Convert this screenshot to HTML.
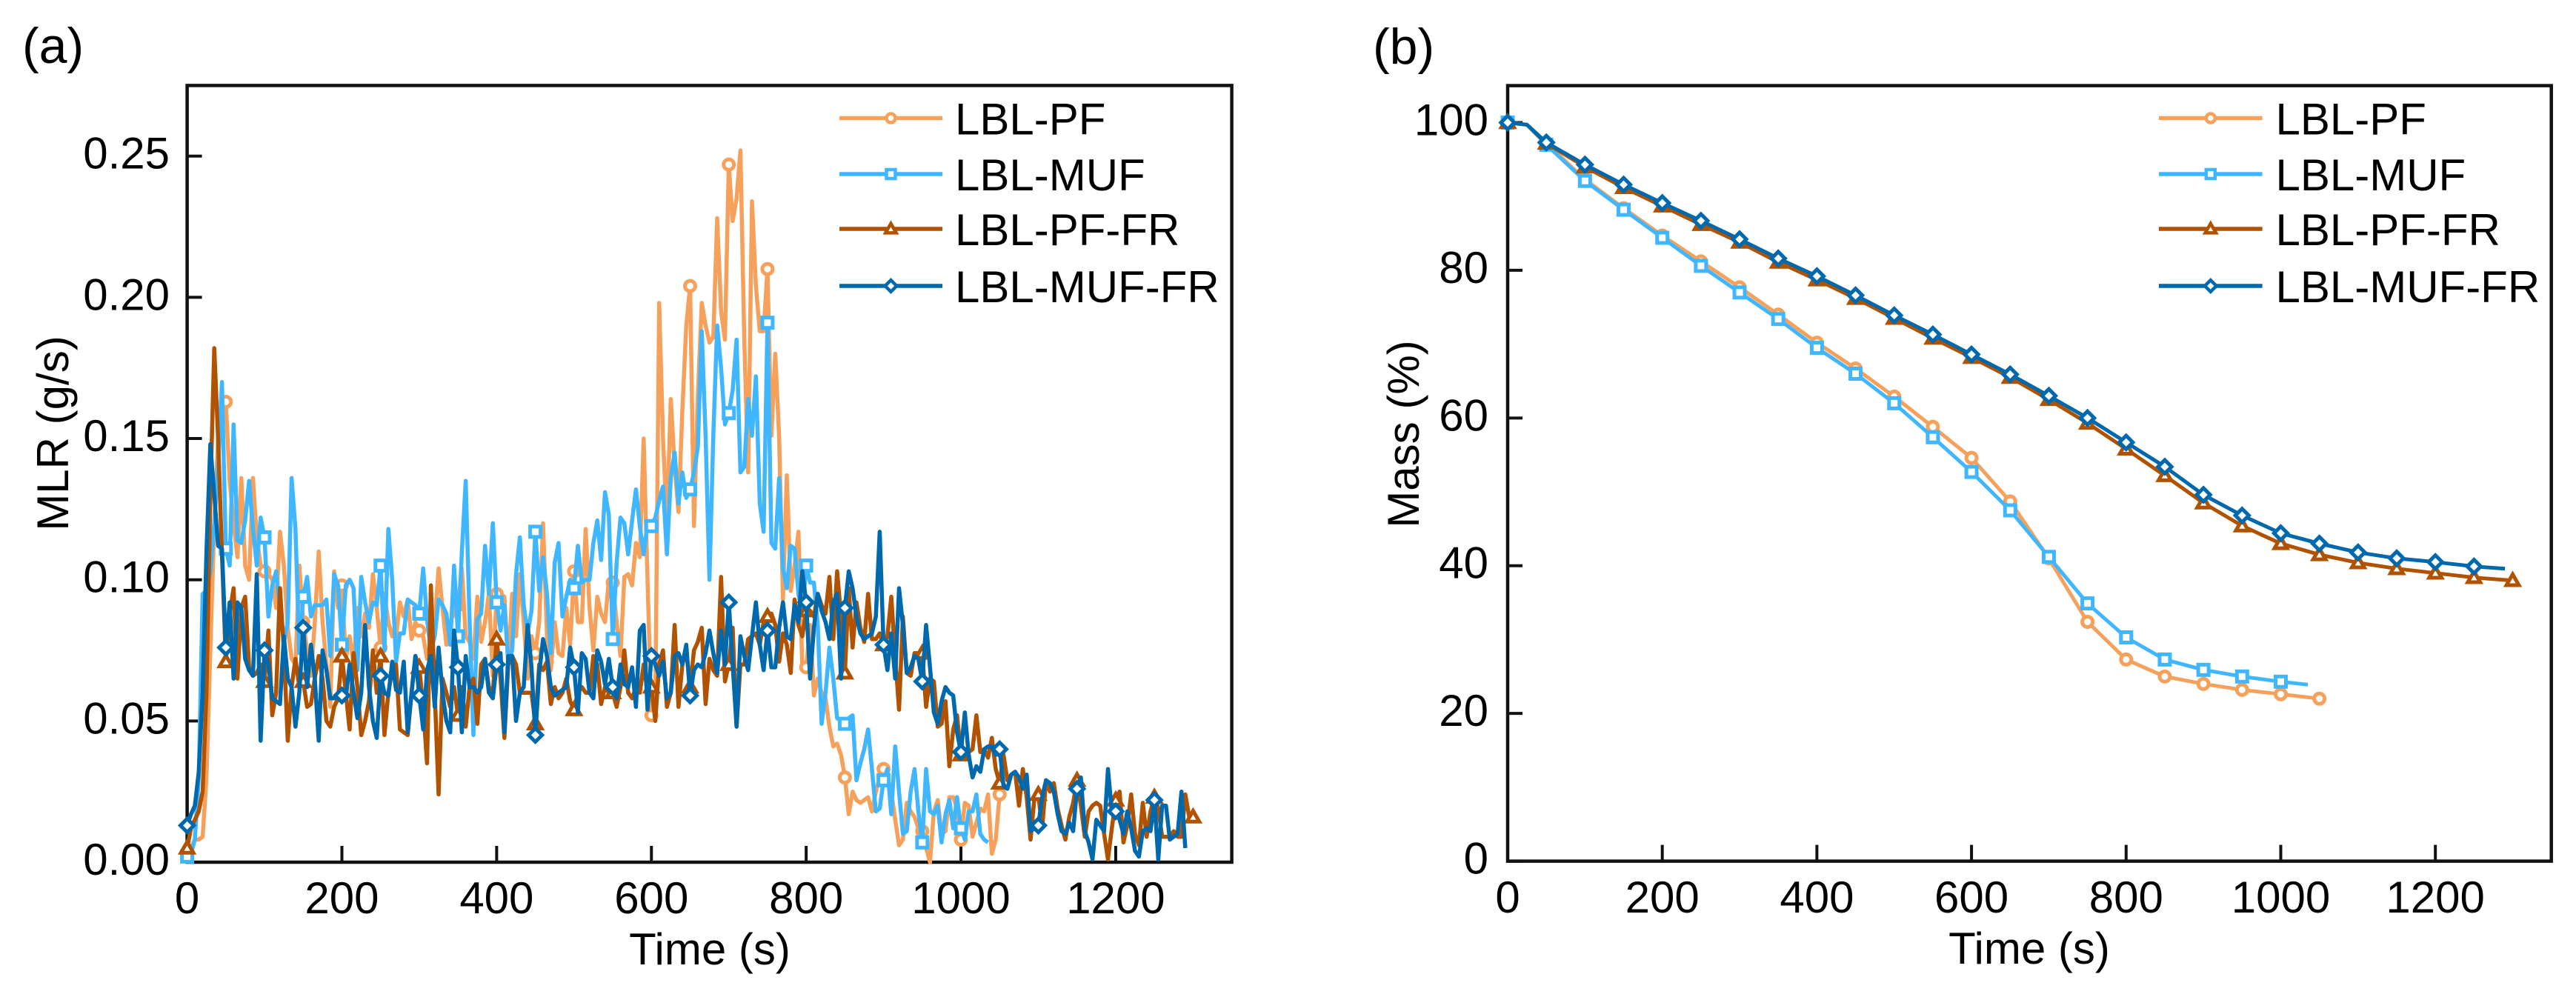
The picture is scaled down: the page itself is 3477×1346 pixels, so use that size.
<!DOCTYPE html>
<html lang="en">
<head>
<meta charset="utf-8">
<title>MLR and Mass vs Time</title>
<style>
html,body{margin:0;padding:0;background:#fff;}
#chart{display:block;width:3477px;height:1346px;}
text{font-family:"Liberation Sans",Arial,sans-serif;fill:#000;}
</style>
</head>
<body>
<svg id="chart" xmlns="http://www.w3.org/2000/svg" width="3477" height="1346" viewBox="0 0 3477 1346"></svg>
<script>
// Panel (a): mass loss rate in mg/s (0.001 g/s), sampled every 5 s starting at t = 0
const mlrPF = [
3,5,8,8,9,30,75,120,150,155,
163,135,120,108,136,105,100,136,115,105,
103,102,100,90,117,105,83,72,70,105,
85,75,66,85,110,85,70,55,103,90,
98,72,80,70,90,80,88,83,102,90,
76,95,85,80,80,92,87,93,79,85,
82,80,72,78,85,104,90,77,85,88,
91,104,80,78,72,94,78,85,95,66,
95,95,94,70,95,80,102,85,65,80,
74,85,120,80,68,85,74,73,90,77,
103,85,85,118,90,75,94,88,85,100,
99,85,73,101,102,98,113,108,150,100,
52,55,198,150,120,164,140,124,160,190,
204,119,165,198,190,184,186,228,195,185,
247,227,235,252,185,138,234,204,188,188,
210,151,180,151,93,137,96,105,117,69,
69,84,59,65,60,58,48,41,42,38,
30,17,25,22,21,22,23,18,25,30,
33,30,25,15,6,8,21,18,16,12,
11,5,0,18,22,10,11,23,23,19,
8,21,20,9,14,19,18,24,3,8,
24];
const mlrMUF = [
2,3,8,30,95,96,103,120,140,170,
111,105,155,114,113,121,135,118,105,122,
115,87,98,103,90,78,85,136,118,74,
94,101,87,91,91,91,93,73,102,98,
77,98,100,97,68,101,92,85,92,91,
105,75,118,100,71,81,81,93,92,91,
88,104,86,75,80,93,91,88,77,105,
80,110,135,86,45,86,88,112,95,120,
92,82,91,71,75,102,115,91,81,89,
117,96,108,95,74,106,113,87,94,100,
97,112,99,100,100,113,121,107,131,123,
79,106,122,120,109,121,132,119,109,120,
119,122,128,133,109,136,145,127,138,129,
132,138,147,188,151,100,151,190,175,155,
159,167,185,138,140,164,151,172,127,117,
191,113,111,136,104,97,112,111,95,88,
105,99,99,84,49,60,76,65,51,50,
49,51,52,29,35,40,47,33,18,19,
29,33,17,41,25,10,11,25,33,18,
7,33,18,17,20,7,17,22,12,23,
12,8,18,18,24,10,8,7];
const mlrPFFR = [
5,12,15,18,25,60,130,182,150,109,
71,88,97,65,90,94,69,66,67,70,
64,82,52,60,97,75,43,62,72,62,
64,55,56,65,73,65,50,48,55,58,
73,60,47,74,62,45,50,57,75,60,
73,45,60,68,70,47,46,45,60,73,
69,55,35,98,60,24,65,60,55,62,
52,62,48,62,65,49,70,72,62,60,
79,65,44,70,73,70,60,60,60,60,
49,70,68,71,56,62,58,60,65,57,
54,60,62,60,60,73,70,56,62,60,
60,55,62,75,60,58,62,60,70,60,
62,50,70,75,55,60,84,55,70,75,
62,75,78,83,56,72,68,66,101,64,
70,83,48,70,70,79,80,81,77,85,
87,88,84,71,81,77,67,93,84,80,
89,89,87,95,91,88,101,79,103,87,
67,97,76,92,83,78,95,79,79,81,
77,80,94,73,54,87,67,66,74,74,
74,55,65,64,48,49,57,34,47,52,
38,39,39,40,52,39,40,37,44,33,
28,38,29,31,32,20,33,23,8,23,
24,12,29,25,28,19,13,8,16,21,
29,20,9,18,20,21,20,10,1,12,
22,25,7,13,24,10,6,21,9,18,
23,19,9,9,9,11,9,9,24,16,
16];
const mlrMUFFR = [
13,17,20,32,60,110,148,130,112,111,
76,92,65,92,90,72,68,66,102,43,
75,70,58,57,56,80,65,62,48,60,
83,62,77,65,43,75,68,58,58,60,
59,58,70,60,51,60,84,62,50,44,
66,60,59,71,61,60,71,46,60,73,
59,47,68,73,55,76,60,50,46,82,
69,46,73,62,62,60,62,72,60,58,
70,74,46,73,73,50,60,62,84,69,
45,67,79,73,62,59,60,61,62,76,
69,53,74,72,60,58,75,71,63,72,
62,58,70,63,62,69,55,82,84,54,
73,70,66,71,58,60,73,74,70,77,
59,68,70,69,74,82,74,67,82,70,
92,70,48,80,73,68,80,92,77,68,
82,69,69,83,92,80,79,91,85,103,
92,65,83,95,89,85,79,92,95,65,
90,103,97,87,81,79,80,81,87,117,
77,68,81,65,97,84,67,69,73,72,
64,84,69,53,49,57,62,60,59,46,
39,53,38,30,34,32,40,41,41,38,
40,27,26,31,32,30,26,31,11,12,
13,23,29,28,25,17,11,10,14,11,
26,30,11,7,1,15,13,11,33,18,
18,15,10,18,12,4,2,11,12,11,
22,1,20,20,8,9,10,25,5];

// Panel (b): mass in %, sampled every 50 s starting at t = 0
const massPF = [100,97.2,92.3,88.4,84.7,81.2,77.7,74,70.2,66.7,62.9,58.8,54.6,48.7,41,32.4,27.3,25,24,23.2,22.6,22];
const massMUF = [100,97,92.1,88.2,84.4,80.6,77,73.4,69.5,66,62,57.4,52.7,47.5,41.2,34.9,30.3,27.3,25.9,25,24.3];
const massPFFR = [100,97.2,94,91.2,88.7,86.2,83.8,81.1,78.7,76.2,73.5,70.8,68.2,65.5,62.5,59.3,55.8,52.2,48.5,45.4,43,41.5,40.4,39.6,39,38.4,38];
const massMUFFR = [100,97.3,94.3,91.6,89.1,86.7,84.2,81.6,79.2,76.6,73.9,71.3,68.6,65.9,63,60,56.7,53.4,49.6,46.8,44.4,43,41.8,41,40.5,39.9];
// Extra non-marker points: [time, value]
const massPlateau = [25,99.7];
const massMUFTail = [1035,23.9];
const massMUFFRTail = [1290,39.6];

// Axis ticks and labels
const timeTicks = [0,200,400,600,800,1000,1200];
const mlrTicks = [0,50,100,150,200,250];
const mlrTickLabels = ["0.00","0.05","0.10","0.15","0.20","0.25"];
const massTicks = [0,20,40,60,80,100];
const massTickLabels = ["0","20","40","60","80","100"];
const seriesNames = ["LBL-PF","LBL-MUF","LBL-PF-FR","LBL-MUF-FR"];
const seriesColors = ["#F5A15C","#40B6FF","#B05200","#0068AD"];
const seriesMarkers = ["circle","square","triangle","diamond"];

const svgNS = "http://www.w3.org/2000/svg";
const root = document.getElementById("chart");
function el(parent, tag, attrs, txt){
  const e = document.createElementNS(svgNS, tag);
  for (const k in attrs) e.setAttribute(k, attrs[k]);
  if (txt !== undefined) e.textContent = txt;
  parent.appendChild(e);
  return e;
}
function scale(d0,d1,r0,r1){ return v => r0 + (v-d0)*(r1-r0)/(d1-d0); }

function drawMarker(parent, kind, cx, cy, color, sw, r){
  let m;
  if (kind === "circle") {
    m = el(parent,"circle",{cx:cx,cy:cy,r:r,fill:"#fff",stroke:color,"stroke-width":sw});
  } else if (kind === "square") {
    m = el(parent,"rect",{x:cx-r,y:cy-r,width:2*r,height:2*r,fill:"#fff",stroke:color,"stroke-width":sw});
  } else if (kind === "triangle") {
    const a = r*1.2;
    m = el(parent,"polygon",{points:(cx-a)+","+(cy+a*0.75)+" "+(cx+a)+","+(cy+a*0.75)+" "+cx+","+(cy-a),fill:"#fff",stroke:color,"stroke-width":sw});
  } else {
    const a = r*1.3;
    m = el(parent,"polygon",{points:cx+","+(cy-a)+" "+(cx+a)+","+cy+" "+cx+","+(cy+a)+" "+(cx-a)+","+cy,fill:"#fff",stroke:color,"stroke-width":sw});
  }
  
  
  return m;
}

function drawPanel(cfg){
  const g = el(root,"g",{});
  
  

  const lab = el(g,"text",{x:cfg.labelX,y:cfg.labelY,"font-size":68},cfg.label);
  
  

  const frame = el(g,"rect",{x:cfg.x0,y:cfg.yTop,width:cfg.x1-cfg.x0,height:cfg.yBot-cfg.yTop,fill:"#fff",stroke:"#111","stroke-width":4.5});
  
  

  timeTicks.forEach(t=>{
    const px = cfg.sx(t);
    const tk = el(g,"line",{x1:px,x2:px,y1:cfg.yBot,y2:cfg.yBot-22,stroke:"#111","stroke-width":4});
    
    
    const tl = el(g,"text",{x:px,y:cfg.xLabelY,"font-size":60,"text-anchor":"middle"},String(t));
    
    
  });
  cfg.yTicks.forEach((v,i)=>{
    const py = cfg.sy(v);
    const tk = el(g,"line",{x1:cfg.x0,x2:cfg.x0+20,y1:py,y2:py,stroke:"#111","stroke-width":4});
    
    
    const tl = el(g,"text",{x:cfg.yLabelX,y:py+17,"font-size":60,"text-anchor":"end"},cfg.yLabels[i]);
    
    
  });

  const xt = el(g,"text",{x:cfg.xTitleX,y:cfg.xTitleY,"font-size":60,"text-anchor":"middle"},"Time (s)");
  
  
  const yt = el(g,"text",{x:0,y:0,"font-size":cfg.yTitleSize,"text-anchor":"middle",transform:"translate("+cfg.yTitleX+","+cfg.yTitleY+") rotate(-90)"},cfg.yTitle);
  
  

  cfg.series.forEach((pts,i)=>{
    const sg = el(g,"g",{});
    
    
    const d = pts.map(p=>cfg.sx(p.t).toFixed(1)+","+cfg.sy(p.v).toFixed(1)).join(" ");
    const ln = el(sg,"polyline",{points:d,fill:"none",stroke:seriesColors[i],"stroke-width":cfg.lineW,"stroke-linejoin":"round"});
    
    
    pts.filter(p=>p.t%50===0).forEach(p=>{
      drawMarker(sg,seriesMarkers[i],cfg.sx(p.t),cfg.sy(p.v),seriesColors[i],cfg.markW,cfg.markR);
    });
  });

  const leg = el(g,"g",{});
  
  
  seriesNames.forEach((nm,i)=>{
    const ly = cfg.legYs[i];
    const eg = el(leg,"g",{});
    
    
    const ll = el(eg,"line",{x1:cfg.legX0,x2:cfg.legX1,y1:ly,y2:ly,stroke:seriesColors[i],"stroke-width":5.5});
    
    
    drawMarker(eg,seriesMarkers[i],(cfg.legX0+cfg.legX1)/2,ly,seriesColors[i],4.5,6);
    const lt = el(eg,"text",{x:cfg.legTextX,y:ly+22,"font-size":60},nm);
    
    
  });
}

function fiveSec(arr){ return arr.map((v,i)=>({t:i*5,v:v})); }
function fiftySec(arr,tail){
  const pts = arr.map((v,i)=>({t:i*50,v:v}));
  pts.splice(1,0,{t:massPlateau[0],v:massPlateau[1]});
  if (tail) pts.push({t:tail[0],v:tail[1]});
  return pts;
}

drawPanel({
  name:"mlr-panel",label:"(a)",labelX:30,labelY:85,
  x0:252.6,x1:1662.6,yTop:115.4,yBot:1164,
  sx:scale(0,1350,252.6,1662.6),sy:scale(0,275,1164,115.4),
  xLabelY:1233,yLabelX:229,xTitleX:958,xTitleY:1302,
  yTicks:mlrTicks,yLabels:mlrTickLabels,
  yTitle:"MLR (g/s)",yTitleSize:60,yTitleX:92,yTitleY:585,
  lineW:5.5,markW:5,markR:7,
  series:[fiveSec(mlrPF),fiveSec(mlrMUF),fiveSec(mlrPFFR),fiveSec(mlrMUFFR)],
  legX0:1133,legX1:1272,legTextX:1289,legYs:[159.5,235,309,386]
});
drawPanel({
  name:"mass-panel",label:"(b)",labelX:1853,labelY:86,
  x0:2035,x1:3443.7,yTop:115.6,yBot:1162.6,
  sx:scale(0,1350,2035,3443.7),sy:scale(0,105,1162.6,115.6),
  xLabelY:1232,yLabelX:2009,xTitleX:2739,xTitleY:1301,
  yTicks:massTicks,yLabels:massTickLabels,
  yTitle:"Mass (%)",yTitleSize:60,yTitleX:1915,yTitleY:586,
  lineW:5,markW:5,markR:7,
  series:[fiftySec(massPF),fiftySec(massMUF,massMUFTail),fiftySec(massPFFR),fiftySec(massMUFFR,massMUFFRTail)],
  legX0:2914,legX1:3053.6,legTextX:3071.5,legYs:[159.5,235,309,386]
});
</script>
</body>
</html>
